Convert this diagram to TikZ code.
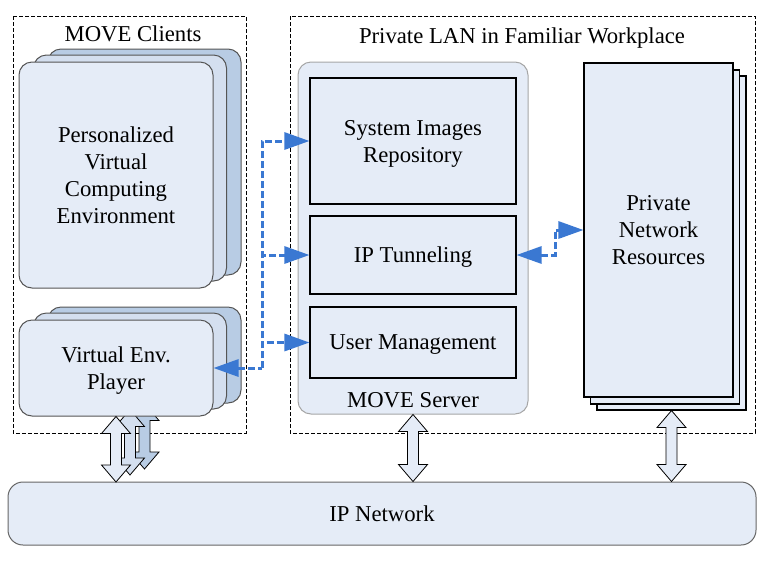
\documentclass[tikz,border=0pt]{standalone}
\usepackage{fontspec}
\setmainfont{Liberation Serif}
\usepackage{tikz}
\usepackage{xcolor}
\usetikzlibrary{calc}
\usetikzlibrary{positioning, arrows.meta}

\definecolor{paleblue}{HTML}{E5ECF7}
\definecolor{midblue}{HTML}{D4DFEF}
\definecolor{deepblue}{HTML}{B8CCE4}
\definecolor{linkblue}{HTML}{3A78D2}
\definecolor{rimgray}{HTML}{555555}

% block arrow with a head at both ends, from a top point to a bottom point
\newcommand{\twoway}[3][fill=paleblue]{%
  \draw[#1, line width=0.8pt] let \p1=(#2), \p2=(#3) in
    (\x1,\y1) -- (\x1+14.5pt,\y1-17pt) -- (\x1+5.5pt,\y1-17pt)
    -- (\x1+5.5pt,\y2+17pt) -- (\x1+14.5pt,\y2+17pt) -- (\x1,\y2)
    -- (\x1-14.5pt,\y2+17pt) -- (\x1-5.5pt,\y2+17pt)
    -- (\x1-5.5pt,\y1-17pt) -- (\x1-14.5pt,\y1-17pt) -- cycle;}

\begin{document}
\begin{tikzpicture}[x=1pt, y=-1pt, font=\fontsize{22.7}{27}\selectfont]
                % Define the styles
                \tikzstyle{region}=[draw, dash pattern=on 4pt off 2pt, line width=0.8pt];
                \tikzstyle{softbox}=[draw=rimgray, line width=1pt, rounded corners=13pt, align=center, inner sep=0pt, text depth=0pt];
                \tikzstyle{plainbox}=[draw, line width=1.1pt, fill=paleblue, align=center, inner sep=0pt, text depth=0pt];
                \tikzstyle{link}=[draw=linkblue, line width=3pt, dash pattern=on 7pt off 3pt,
                    >={Triangle[length=25pt,width=17pt]}];
                
                \useasboundingbox (0,0) rectangle (771,566);
                
                % Dashed regions
                \draw[region] (13,16) rectangle (246,433);
                \draw[region] (290,16) rectangle (755,433);
                \node (clients) at (133,34) {MOVE Clients};
                \node[text depth=0pt] (lan) at (522,36) {Private LAN in Familiar Workplace};
                
                % Personalized computing environment stack
                \node[softbox, fill=deepblue, minimum width=193pt, minimum height=226pt] (pvce3) at (144.5,162) {};
                \node[softbox, fill=midblue, minimum width=193pt, minimum height=226pt] (pvce2) at (130,168) {};
                \node[softbox, fill=paleblue, minimum width=194pt, minimum height=226pt] (pvce) at (116,175)
                    {Personalized\\Virtual\\Computing\\Environment};
                
                % Player stack, with its arrows to the network
                \coordinate (netleft) at (116,482);
                \node[softbox, fill=deepblue, minimum width=193pt, minimum height=96pt] (vep3) at (144.5,355) {};
                \twoway[fill=deepblue]{vep3.south}{$(netleft)+(29,-13)$}
                \node[softbox, fill=midblue, minimum width=193pt, minimum height=96pt] (vep2) at (130,361) {};
                \twoway[fill=midblue]{vep2.south}{$(netleft)+(14,-7)$}
                \node[softbox, fill=paleblue, minimum width=194pt, minimum height=96pt] (vep) at (116,368)
                    {Virtual Env.\\Player};
                
                % MOVE Server and its parts
                \node[softbox, draw=gray!70, fill=paleblue, minimum width=230pt, minimum height=352pt] (srv) at (413,238) {};
                \node[above=6pt of srv.south, inner sep=0pt] (srvlabel) {MOVE Server};
                \node[plainbox, minimum width=206pt, minimum height=126pt] (sir) at (413,141) {System Images\\Repository};
                \node[plainbox, minimum width=206pt, minimum height=78pt] (ipt) at (413,255) {IP Tunneling};
                \node[plainbox, minimum width=206pt, minimum height=71pt] (um) at (413,342.5) {User Management};
                
                % Private network resources stack
                \node[plainbox, minimum width=149pt, minimum height=334pt] (pnr3) at (671.5,243) {};
                \node[plainbox, minimum width=149pt, minimum height=334pt] (pnr2) at (665,237) {};
                \node[plainbox, minimum width=149pt, minimum height=334pt] (pnr) at (658.5,230)
                    {Private\\Network\\Resources};
                
                % IP Network
                \node[softbox, draw=gray!80!black, rounded corners=15pt, fill=paleblue, minimum width=748pt, minimum height=63pt] (net) at (382,513.5) {IP Network};
                
                % Block arrows to the network
                \twoway{vep.south}{netleft}
                \twoway{srv.south}{net.north -| srv.south}
                \twoway{pnr3.south}{net.north -| pnr3.south}
                
                % Dashed links
                \coordinate (hub) at (262,368);
                \draw[link, <-] (vep.east) -- (hub);
                \draw[link, ->] (hub) |- (sir.west);
                \draw[link, ->] (hub) |- (ipt.west);
                \draw[link, ->] (hub) |- (um.west);
                \coordinate (bend) at (555,255);
                \draw[link, <->] (ipt.east) -- (bend) |- (pnr.west);
                
            \end{tikzpicture}
\end{document}
